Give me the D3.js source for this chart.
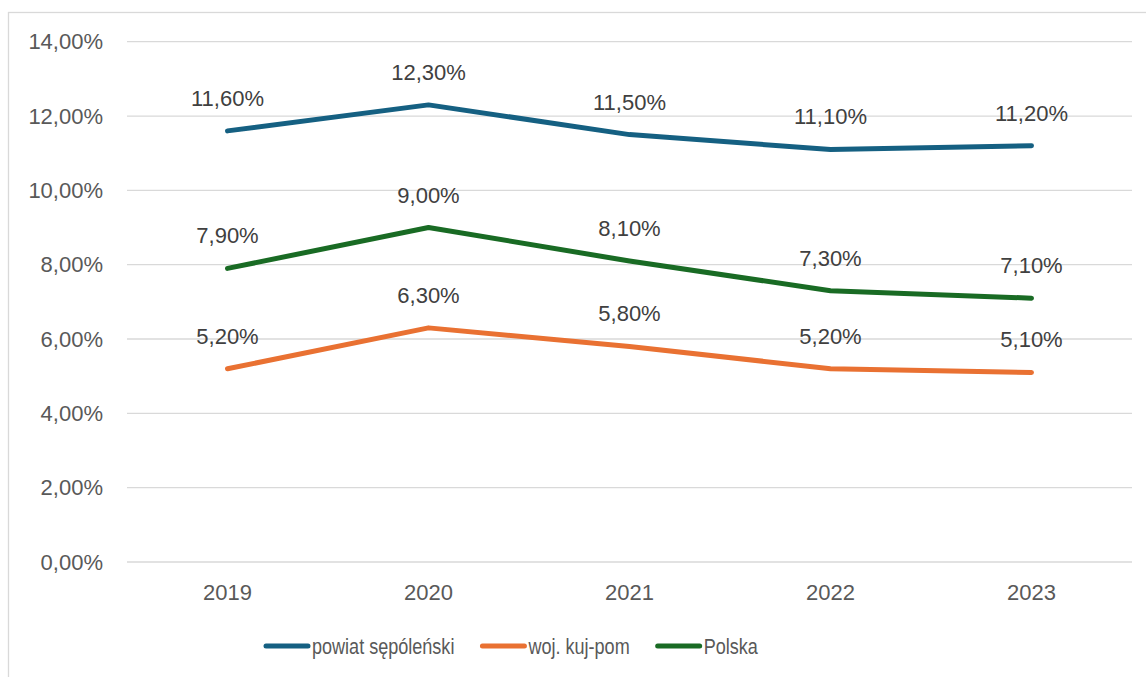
<!DOCTYPE html>
<meta charset="utf-8">
<style>
body { margin: 0; background: #fff; }
text { font-family: "Liberation Sans", Arial, sans-serif; }
.grid line { stroke: #d9d9d9; stroke-width: 1.3px; }
.tick-label { fill: #595959; font-size: 22px; }
.data-label { fill: #404040; font-size: 22px; }
path.line { fill: none; stroke-width: 5px; stroke-linecap: round; stroke-linejoin: round; }
</style>
<div id="chart"></div>
<script src="https://d3js.org/d3.v7.min.js"></script>
<script>

var years = ["2019", "2020", "2021", "2022", "2023"];
var seriesNames = ["powiat sępóleński", "woj. kuj-pom", "Polska"];
var powiat = [11.6, 12.3, 11.5, 11.1, 11.2];
var wojewodztwo = [5.2, 6.3, 5.8, 5.2, 5.1];
var polska = [7.9, 9.0, 8.1, 7.3, 7.1];
var yTicks = [0, 2, 4, 6, 8, 10, 12, 14];
var colors = ["#156082", "#E97132", "#196B24"];

var W = 1146, H = 677;

var svg = d3.select("#chart").append("svg")
  .attr("width", W)
  .attr("height", H);

// chart border (runs off the right / bottom edge like the screenshot)
svg.append("rect")
  .attr("x", 8.5).attr("y", 12.5)
  .attr("width", W + 20).attr("height", H + 20)
  .attr("fill", "none")
  .attr("stroke", "#d9d9d9")
  .attr("stroke-width", 1.3);

var x = d3.scaleBand().domain(years).range([127, 1132]);
var y = d3.scaleLinear().domain([0, 14]).range([562, 41.7]);

var fmt = function(v) { return v.toFixed(2).replace(".", ",") + "%"; };

// gridlines
svg.append("g").attr("class", "grid")
  .selectAll("line")
  .data(yTicks)
  .enter().append("line")
  .attr("x1", 127).attr("x2", 1132)
  .attr("y1", function(d) { return y(d); })
  .attr("y2", function(d) { return y(d); });

// y labels
svg.append("g")
  .selectAll("text")
  .data(yTicks)
  .enter().append("text")
  .attr("class", "tick-label")
  .attr("x", 103)
  .attr("y", function(d) { return y(d); })
  .attr("dy", "0.35em")
  .attr("text-anchor", "end")
  .text(fmt);

// x labels
svg.append("g")
  .selectAll("text")
  .data(years)
  .enter().append("text")
  .attr("class", "tick-label")
  .attr("x", function(d) { return x(d) + x.bandwidth() / 2; })
  .attr("y", 600)
  .attr("text-anchor", "middle")
  .text(function(d) { return d; });

var series = [powiat, wojewodztwo, polska];

var line = d3.line()
  .x(function(d, i) { return x(years[i]) + x.bandwidth() / 2; })
  .y(function(d) { return y(d); });

svg.selectAll("path.line")
  .data(series)
  .enter().append("path")
  .attr("class", "line")
  .style("stroke", function(d, i) { return colors[i]; })
  .attr("d", line);

// data labels above points
series.forEach(function(s) {
  svg.append("g")
    .selectAll("text")
    .data(s)
    .enter().append("text")
    .attr("class", "data-label")
    .attr("x", function(d, i) { return x(years[i]) + x.bandwidth() / 2; })
    .attr("y", function(d) { return y(d) - 25; })
    .attr("text-anchor", "middle")
    .text(fmt);
});

// legend (narrow font look: squeeze the text horizontally)
var legendX = 266, legendY = 646, squeeze = 0.82;
var legend = svg.append("g");
seriesNames.forEach(function(name, i) {
  var g = legend.append("g").attr("transform", "translate(" + legendX + "," + legendY + ")");
  g.append("line")
    .attr("x1", 0).attr("x2", 42)
    .attr("y1", 0).attr("y2", 0)
    .attr("stroke", colors[i])
    .attr("stroke-width", 5)
    .attr("stroke-linecap", "round");
  var t = g.append("text")
    .attr("class", "tick-label")
    .attr("x", 0)
    .attr("y", 0)
    .attr("dy", "0.35em")
    .text(name);
  var len = t.node().getComputedTextLength() * squeeze;
  t.attr("textLength", len).attr("lengthAdjust", "spacingAndGlyphs").attr("x", 46);
  legendX += 46 + len + 28;
});

</script>
